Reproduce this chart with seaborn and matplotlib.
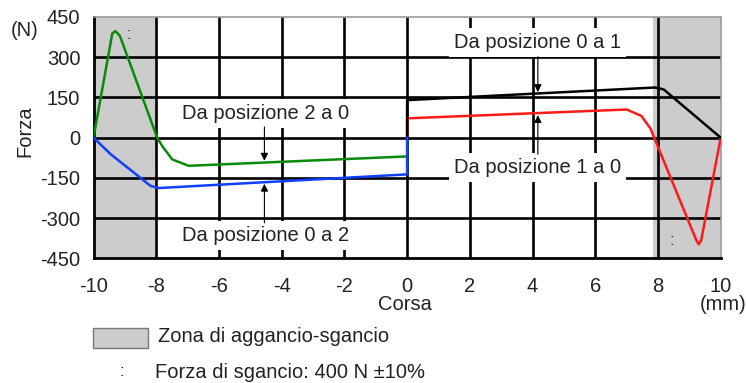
import matplotlib
matplotlib.use("Agg")
import matplotlib.pyplot as plt
from matplotlib.patches import Rectangle
import numpy as np
import pandas as pd
import seaborn as sns

# Force curves (stroke in mm, force in N)
x_2a0 = [-10, -9.40, -9.30, -9.16, -7.97, -7.81, -7.49, -6.97, 0]
y_2a0 = [0, 389, 397, 380, 0, -31, -81, -105, -70]

x_0a2 = [-10, -9.46, -8.18, -7.93, 0, 0]
y_0a2 = [0, -61, -180, -188, -137, 0]

x_1a0 = [0, 0, 7.0, 7.47, 7.76, 9.22, 9.30, 9.38, 10]
y_1a0 = [0, 72, 105, 81, 34, -382, -398, -382, 0]

x_0a1 = [0, 0, 7.9, 8.18, 10]
y_0a1 = [0, 140, 187, 180, 0]

latch_zones = [(-10, -8), (7.85, 10)]
x_ticks = list(range(-10, 11, 2))
y_ticks = list(range(-450, 451, 150))

sns.set_theme(style="white")
plt.rcParams["font.family"] = ["Liberation Sans", "DejaVu Sans"]
plt.rcParams["axes.unicode_minus"] = False

FS = 14.5
TXT = "#222222"

fig = plt.figure(figsize=(7.46, 3.83), dpi=100)
ax = fig.add_axes([93.5 / 746, 1 - 258.3 / 383, (720.7 - 93.5) / 746, (258.3 - 17) / 383])

for x0, x1 in latch_zones:
    ax.axvspan(x0, x1, color="#cccccc", lw=0, zorder=0)

# interior grid
for xv in x_ticks[1:-1]:
    ax.axvline(xv, color="black", lw=1.9, zorder=1)
for yv in y_ticks[1:-1]:
    ax.axhline(yv, color="black", lw=1.9, zorder=1)

series = [
    (x_2a0, y_2a0, "#0a8a0a"),
    (x_1a0, y_1a0, "#ff1a1a"),
    (x_0a1, y_0a1, "#000000"),
    (x_0a2, y_0a2, "#1040ff"),
]
for xs, ys, col in series:
    df = pd.DataFrame({"Corsa": xs, "Forza": ys})
    sns.lineplot(data=df, x="Corsa", y="Forza", ax=ax, color=col, lw=1.8,
                 estimator=None, sort=False, zorder=3)

ax.set_xlim(-10, 10)
ax.set_ylim(-450, 450)
ax.set_xticks(x_ticks)
ax.set_xticks(range(-9, 10, 2), minor=True)
ax.set_yticks(y_ticks)
ax.set_yticks(range(-375, 376, 150), minor=True)
ax.set_xticklabels([str(v) for v in x_ticks])
ax.set_yticklabels([str(v) for v in y_ticks])
ax.tick_params(axis="both", which="major", direction="out", length=6.5, width=2.2,
               color="black", labelsize=FS, labelcolor=TXT)
ax.tick_params(axis="both", which="minor", direction="out", length=6, width=1.6, color="black")
ax.tick_params(axis="x", which="major", pad=7)
ax.tick_params(axis="y", which="major", pad=3)
ax.set_xlabel("")
ax.set_ylabel("")
for s in ["left", "bottom"]:
    ax.spines[s].set_color("black")
    ax.spines[s].set_linewidth(2)
for s in ["top", "right"]:
    ax.spines[s].set_color("#999999")
    ax.spines[s].set_linewidth(1.2)

box = dict(boxstyle="square,pad=0.25", fc="white", ec="none")
label_kw = dict(fontsize=FS, ha="center", va="center", color=TXT, bbox=box, zorder=4)
ax.text(-4.52, 91, "Da posizione 2 a 0", **label_kw)
ax.text(-4.52, -365, "Da posizione 0 a 2", **label_kw)
ax.text(4.17, 355, "Da posizione 0 a 1", **label_kw)
ax.text(4.17, -112, "Da posizione 1 a 0", **label_kw)

arrow = dict(arrowstyle="-|>", color="black", lw=0.8, mutation_scale=11, shrinkA=0, shrinkB=0)
ax.annotate("", xy=(-4.55, -86), xytext=(-4.55, 40), arrowprops=arrow, zorder=5)
ax.annotate("", xy=(-4.55, -172), xytext=(-4.55, -318), arrowprops=arrow, zorder=5)
ax.annotate("", xy=(4.17, 170), xytext=(4.17, 302), arrowprops=arrow, zorder=5)
ax.annotate("", xy=(4.17, 84), xytext=(4.17, -62), arrowprops=arrow, zorder=5)

# release-force markers
ax.text(-8.87, 385, ":", fontsize=12, ha="center", va="center", color=TXT, zorder=4)
ax.text(8.45, -385, ":", fontsize=12, ha="center", va="center", color=TXT, zorder=4)

# axis captions
fig.text(25 / 746, 1 - 30 / 383, "(N)", fontsize=FS, ha="center", va="center", color=TXT)
fig.text(25 / 746, 1 - 131 / 383, "Forza", fontsize=FS, ha="center", va="center",
         rotation=90, color=TXT)
fig.text(405 / 746, 1 - 304 / 383, "Corsa", fontsize=FS, ha="center", va="center", color=TXT)
fig.text(723 / 746, 1 - 304 / 383, "(mm)", fontsize=FS, ha="center", va="center", color=TXT)

# key
fig.patches.append(Rectangle((92.7 / 746, 1 - 348 / 383), 55.6 / 746, 20 / 383,
                             transform=fig.transFigure, fc="#cccccc", ec="#777777", lw=1))
fig.text(158 / 746, 1 - 337 / 383, "Zona di aggancio-sgancio", fontsize=FS,
         ha="left", va="center", color=TXT)
fig.text(122 / 746, 1 - 372 / 383, ":", fontsize=12, ha="center", va="center", color=TXT)
fig.text(155 / 746, 1 - 372 / 383, "Forza di sgancio: 400 N \u00b110%", fontsize=FS,
         ha="left", va="center", color=TXT)

fig.savefig("out.png", dpi=100)
